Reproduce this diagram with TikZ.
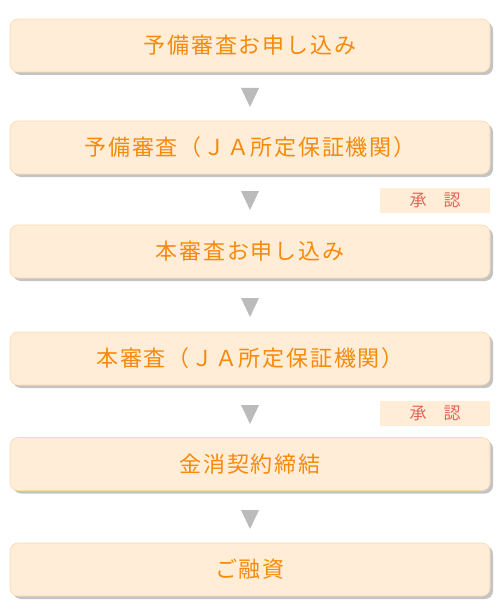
\documentclass[tikz,border=0pt]{standalone}
\usepackage{fontspec}
\newfontfamily\jpfont[LetterSpace=8]{Noto Sans CJK JP}
\newfontfamily\jpsmall{Noto Sans CJK JP}
\usetikzlibrary{shadows,calc}
\definecolor{boxfill}{HTML}{FFEDD7}
\definecolor{boxline}{HTML}{FFD9AE}
\definecolor{txtorange}{HTML}{F58A0C}
\definecolor{approvred}{HTML}{E5645A}
\definecolor{shadowgray}{HTML}{C4C4C4}
\definecolor{arrowgray}{HTML}{BBBBBB}
\tikzset{
  stepbox/.style={draw=boxline, line width=0.6pt, fill=boxfill, rounded corners=8pt,
    minimum width=480pt, minimum height=53pt, inner sep=0pt,
    font=\fontsize{22pt}{24pt}\jpfont, text=txtorange,
    drop shadow={shadow xshift=3pt, shadow yshift=-3pt, fill=shadowgray, opacity=1}},
  approvbox/.style={fill=boxfill, minimum width=110pt, minimum height=25pt, inner sep=0pt,
    font=\fontsize{17pt}{18pt}\jpsmall, text=approvred},
  downtri/.style={fill=arrowgray}
}
\begin{document}
\begin{tikzpicture}[x=1pt,y=-1pt]
\useasboundingbox (0,0) rectangle (500,615);
\node[stepbox] (b1) at (250,45.5) {予備審査お申し込み};
\node[stepbox] (b2) at (250,147.5) {予備審査（ＪＡ所定保証機関）};
\node[stepbox] (b3) at (250,251.5) {本審査お申し込み};
\node[stepbox] (b4) at (250,358.5) {本審査（ＪＡ所定保証機関）};
\node[stepbox] (b5) at (250,464) {金消契約締結};
\node[stepbox] (b6) at (250,569.5) {ご融資};
\node[approvbox] (a1) at (435,200.5) {承　認};
\node[approvbox] (a2) at (435,413.5) {承　認};
\coordinate (t1) at (250,88);
\coordinate (t2) at (250,191);
\coordinate (t3) at (250,298);
\coordinate (t4) at (250,405);
\coordinate (t5) at (250,510);
\foreach \t in {t1,t2,t3,t4,t5}{
  \fill[downtri] ($(\t)+(-9,0)$) -- ($(\t)+(9,0)$) -- ($(\t)+(0,19)$) -- cycle;
}
\end{tikzpicture}
\end{document}
